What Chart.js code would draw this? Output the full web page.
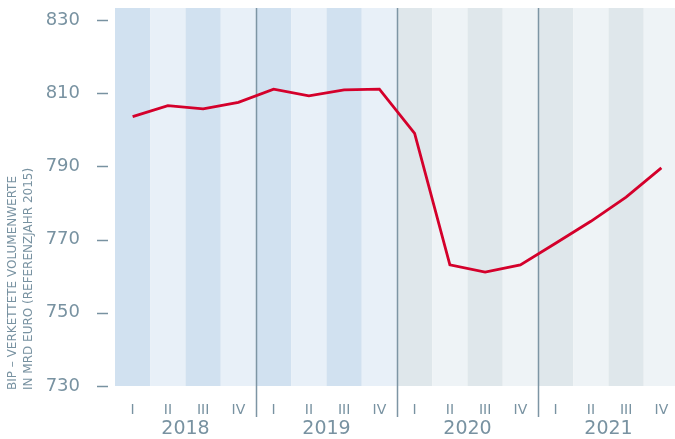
<!DOCTYPE html>
<html>
<head>
<meta charset="utf-8">
<script src="https://cdn.jsdelivr.net/npm/chart.js@4.4.1/dist/chart.umd.min.js"></script>
<style>
  html, body { margin: 0; padding: 0; background: #fff; overflow: hidden; }
  #wrap { width: 675px; height: 439px; overflow: hidden; }
  #box { width: 680px; height: 439px; position: relative; }
</style>
</head>
<body>
<div id="wrap"><div id="box"><canvas id="myChart"></canvas></div></div>
<script>
const quarters = ['I', 'II', 'III', 'IV', 'I', 'II', 'III', 'IV', 'I', 'II', 'III', 'IV', 'I', 'II', 'III', 'IV']
const years = ['2018', '2019', '2020', '2021']
const gdp = [803.6, 806.6, 805.7, 807.5, 811.1, 809.3, 810.9, 811.1, 799.0, 763.1, 761.1, 763.1, 769.0, 775.0, 781.6, 789.6]
const yTicks = [730, 750, 770, 790, 810, 830]
const yTitle = ['BIP – VERKETTETE VOLUMENWERTE', 'IN MRD EURO (REFERENZJAHR 2015)']

const textColor = '#7892a1'
const lineColor = '#d4002b'
const fontFamily = '"DejaVu Sans", sans-serif'

// alternating quarter shades: blue for the past years, grey for forecast years
const bandColor = (i) => {
  const dark = i % 2 === 0
  if (i < 8) return dark ? '#d1e1f0' : '#e8f0f8'
  return dark ? '#dfe7eb' : '#eef3f6'
}

const decor = {
  id: 'decor',
  beforeDatasetsDraw(chart) {
    const { ctx, chartArea, scales: { x, y } } = chart
    const half = (x.getPixelForValue(1) - x.getPixelForValue(0)) / 2
    ctx.save()
    quarters.forEach((q, i) => {
      const cx = x.getPixelForValue(i)
      ctx.fillStyle = bandColor(i)
      ctx.fillRect(cx - half, chartArea.top, half * 2, chartArea.bottom - chartArea.top)
    })

    // year separators
    ctx.strokeStyle = '#7d95a4'
    ctx.lineWidth = 1.5
    for (let k = 1; k < years.length; k++) {
      const lx = Math.round((x.getPixelForValue(4 * k - 1) + x.getPixelForValue(4 * k)) / 2) + 0.5
      ctx.beginPath()
      ctx.moveTo(lx, chartArea.top)
      ctx.lineTo(lx, chartArea.bottom + 31)
      ctx.stroke()
    }

    // year labels
    ctx.fillStyle = textColor
    ctx.font = `19px ${fontFamily}`
    ctx.textAlign = 'center'
    ctx.textBaseline = 'middle'
    years.forEach((yr, k) => {
      const cx = (x.getPixelForValue(4 * k) + x.getPixelForValue(4 * k + 3)) / 2
      ctx.fillText(yr, cx, chartArea.bottom + 43)
    })

    // y tick dashes
    ctx.strokeStyle = textColor
    ctx.lineWidth = 1.5
    yTicks.forEach(v => {
      const py = Math.round(y.getPixelForValue(v)) + 0.5
      ctx.beginPath()
      ctx.moveTo(chartArea.left - 18, py)
      ctx.lineTo(chartArea.left - 7, py)
      ctx.stroke()
    })

    // rotated axis title
    ctx.save()
    ctx.font = `12px ${fontFamily}`
    ctx.textAlign = 'left'
    ctx.textBaseline = 'middle'
    ctx.translate(13, chartArea.bottom + 4)
    ctx.rotate(-Math.PI / 2)
    yTitle.forEach((line, i) => ctx.fillText(line, 0, i * 16))
    ctx.restore()
    ctx.restore()
  }
}

new Chart(document.getElementById('myChart'), {
  type: 'line',
  data: {
    labels: quarters,
    datasets: [{
      data: gdp,
      borderColor: lineColor,
      borderWidth: 2.8,
      pointRadius: 0,
      tension: 0,
      fill: false
    }]
  },
  options: {
    responsive: true,
    maintainAspectRatio: false,
    animation: false,
    layout: { padding: { top: 8, right: 1, left: 0, bottom: 0 } },
    plugins: { legend: { display: false }, tooltip: { enabled: false } },
    scales: {
      x: {
        offset: true,
        grid: { display: false },
        border: { display: false },
        ticks: { color: textColor, font: { family: fontFamily, size: 14 }, padding: 8, maxRotation: 0 },
        afterFit: (s) => { s.height = 53; s.paddingLeft = 0; s.paddingRight = 0 }
      },
      y: {
        min: 730,
        max: 833.28,
        grid: { display: false },
        border: { display: false },
        afterBuildTicks: (s) => { s.ticks = yTicks.map(v => ({ value: v })) },
        ticks: { color: textColor, font: { family: fontFamily, size: 18 }, padding: 27 },
        afterFit: (s) => { s.width = 115; s.paddingTop = 0; s.paddingBottom = 0 }
      }
    }
  },
  plugins: [decor]
})
</script>
</body>
</html>
